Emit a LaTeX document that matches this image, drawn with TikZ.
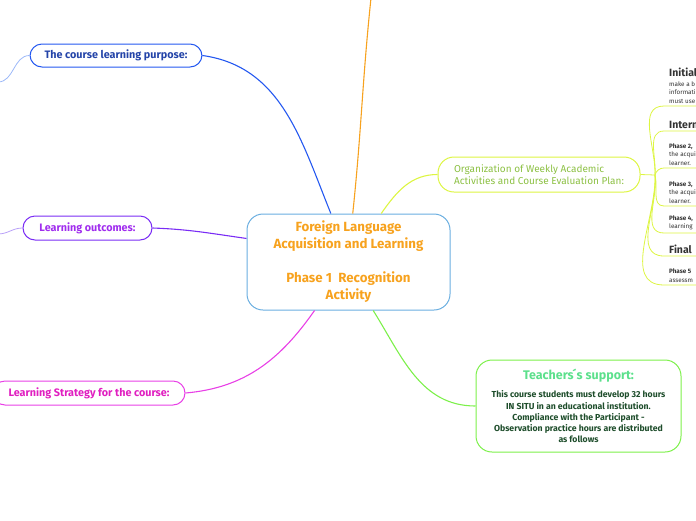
\documentclass[tikz,border=0pt]{standalone}
\usepackage{fontspec}
\setmainfont{Fira Sans}
\definecolor{cblue}{HTML}{2458F0}
\definecolor{cbluetxt}{HTML}{2444A8}
\definecolor{cbluetail}{HTML}{9CB8F8}
\definecolor{corange}{HTML}{F7A21E}
\definecolor{crootline}{HTML}{6AAEE0}
\definecolor{clime}{HTML}{DDF542}
\definecolor{climetxt}{HTML}{8CC043}
\definecolor{cpurple}{HTML}{7A2CF5}
\definecolor{cpurpletxt}{HTML}{A02DEE}
\definecolor{cpurpletail}{HTML}{B8A0F8}
\definecolor{cmagenta}{HTML}{E840E6}
\definecolor{cmagentatxt}{HTML}{E01EC0}
\definecolor{cgreen}{HTML}{7CF04A}
\definecolor{cgreentxt}{HTML}{5CE08C}
\definecolor{cgreendark}{HTML}{1E4D2B}
\begin{document}
\begin{tikzpicture}[x=1pt,y=1pt,
topic/.style={
rectangle,
draw,
line width=1pt,
rounded corners=12pt,
align=center,
inner sep=2pt,
font=\bfseries\fontsize{10.8}{13}\selectfont
},
branch/.style={line width=1.1pt},
tail/.style={line width=0.8pt},
item/.style={anchor=south west,align=left,inner xsep=5pt,inner ysep=2.5pt,
  text=black!80,font=\fontsize{6.3}{8.5}\selectfont},
]
\newcommand{\itemtitle}{\bfseries\fontsize{10.5}{11}\selectfont}
\useasboundingbox (0,0) rectangle (696,-520);

% central topic
\node (root) [topic, draw=crootline, text=corange, rounded corners=16pt,
  minimum width=203, minimum height=96,
  font=\bfseries\fontsize{13.3}{17}\selectfont] at (348.5,-262)
  {Foreign Language\\Acquisition and Learning\\[17pt]Phase 1~~Recognition\\Activity};

% main topics
\node (purpose) [topic, draw=cblue, text=cbluetxt, minimum width=172, minimum height=23] at (116,-55.5) {The course learning purpose:};
\node (outcomes) [topic, draw=cpurple, text=cpurpletxt, minimum width=129, minimum height=24] at (87.5,-228) {Learning outcomes:};
\node (strategy) [topic, draw=cmagenta, text=cmagentatxt, minimum width=192, minimum height=24] at (89,-393) {Learning Strategy for the course:};
\node (org) [topic, draw=clime, text=climetxt, minimum width=202, minimum height=35, rounded corners=16pt,
  align=left, font=\fontsize{10}{12.5}\selectfont] at (539,-174.5)
  {Organization of Weekly Academic\\Activities and Course Evaluation Plan:};
\node (teach) [topic, draw=cgreen, text=cgreendark, minimum width=205, minimum height=92, rounded corners=16pt,
  font=\bfseries\fontsize{8.7}{11.3}\selectfont] at (578.5,-406)
  {{\fontsize{12.5}{14}\selectfont\color{cgreentxt}Teachers\'{}s support:}\\[7pt]
  This course students must develop 32 hours\\IN SITU in an educational institution.\\
  Compliance with the Participant -\\Observation practice hours are distributed\\as follows};

% free ends
\coordinate (topend) at (371,2);
\coordinate (tailA) at (-2,-82);
\coordinate (tailB) at (-2,-234);
\coordinate (hub) at (655,-175);

% sub topics of the plan
\node (initial) [item] at (664,-106) {{\itemtitle Initial}\\[1pt]make a b\\informati\\must use};
\node (intern) [item] at (664,-131) {{\itemtitle Intern}};
\node (phaseB) [item] at (664,-168) {\textbf{Phase 2,}\\the acqui\\learner.};
\node (phaseC) [item] at (664,-206) {\textbf{Phase 3,}\\the acqui\\learner.};
\node (phaseD) [item] at (664,-233) {\textbf{Phase 4,}\\learning};
\node (final) [item] at (664,-256) {{\itemtitle Final}};
\node (phaseE) [item] at (664,-285) {\textbf{Phase 5}\\assessm};

% connectors
\draw[branch, cblue] (purpose.east) to[out=-8, in=112] (root.110);
\draw[branch, corange] (root.85) to[out=84, in=-96] (topend);
\draw[branch, clime] (root.56) to[out=55, in=180] (org.west);
\draw[branch, cpurple] (root.167) to[out=172, in=-2] (outcomes.east);
\draw[branch, cmagenta] (root.235) to[out=235, in=5] (strategy.east);
\draw[branch, cgreen] (root.297) to[out=-58, in=180] (teach.west);

\draw[tail, cbluetail] (purpose.west) to[out=180, in=0] (tailA);
\draw[tail, cpurpletail] (outcomes.west) to[out=180, in=0] (tailB);

\draw[tail, clime] (org.east) -- (hub);
\foreach \sub/\dir in {initial/88, intern/85, phaseB/75, phaseC/-75, phaseD/-82, final/-85, phaseE/-88}
  \draw[tail, clime] (hub) to[out=\dir, in=180] (\sub.south west) -- ++(40,0);
\end{tikzpicture}
\end{document}
